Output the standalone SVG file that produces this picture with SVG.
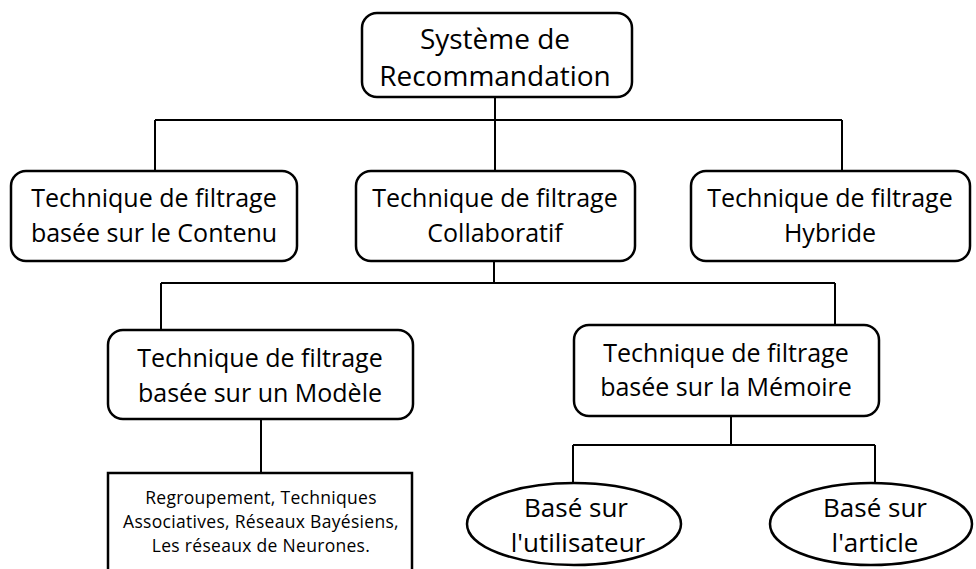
<svg xmlns="http://www.w3.org/2000/svg" width="976" height="569" viewBox="0 0 976 569">
<style>
.box{fill:#fff;stroke:#000;stroke-width:2.5}
.ln{fill:none;stroke:#000;stroke-width:2}
text{font-family:"Open Sans","Liberation Sans",sans-serif;fill:#000;text-anchor:middle}
.t1{font-size:28px}
.t2{font-size:25px}
.t3{font-size:17.5px;letter-spacing:0.3px}
.t4{font-size:26px}
</style>
<rect width="976" height="569" fill="#fff"/>
<g id="connectors">
<path class="ln" d="M495 97V120M155 120H842M155 120V171M495 120V171M842 120V171"/>
<path class="ln" d="M494 261V283M161 283H835M161 283V330M835 283V325"/>
<path class="ln" d="M261 419V473"/>
<path class="ln" d="M731 416V445M573 445H875M573 445V483M875 445V483"/>
</g>
<g id="root">
<rect class="box" x="362" y="13" width="270" height="84" rx="15"/>
<text class="t1" x="495" y="49">Système de</text>
<text class="t1" x="495" y="86">Recommandation</text>
</g>
<g id="contenu">
<rect class="box" x="11" y="171" width="286" height="90" rx="15"/>
<text class="t2" x="154" y="207">Technique de filtrage</text>
<text class="t2" x="154" y="242">basée sur le Contenu</text>
</g>
<g id="collaboratif">
<rect class="box" x="356" y="171" width="279" height="90" rx="15"/>
<text class="t2" x="495" y="207">Technique de filtrage</text>
<text class="t2" x="495" y="242">Collaboratif</text>
</g>
<g id="hybride">
<rect class="box" x="691" y="171" width="279" height="90" rx="15"/>
<text class="t2" x="830" y="207">Technique de filtrage</text>
<text class="t2" x="830" y="242">Hybride</text>
</g>
<g id="modele">
<rect class="box" x="108" y="330" width="305" height="89" rx="15"/>
<text class="t2" x="260" y="367">Technique de filtrage</text>
<text class="t2" x="260" y="402">basée sur un Modèle</text>
</g>
<g id="memoire">
<rect class="box" x="574" y="325" width="305" height="91" rx="15"/>
<text class="t2" x="726" y="362">Technique de filtrage</text>
<text class="t2" x="726" y="396">basée sur la Mémoire</text>
</g>
<g id="techniques">
<rect class="box" x="108" y="473" width="304" height="110"/>
<text class="t3" x="261" y="504">Regroupement, Techniques</text>
<text class="t3" x="261" y="528">Associatives, Réseaux Bayésiens,</text>
<text class="t3" x="261" y="552">Les réseaux de Neurones.</text>
</g>
<g id="utilisateur">
<ellipse class="box" cx="574" cy="524" rx="107" ry="41"/>
<text class="t4" x="576" y="517">Basé sur</text>
<text class="t4" x="578" y="552">l'utilisateur</text>
</g>
<g id="article">
<ellipse class="box" cx="871" cy="524" rx="101" ry="41"/>
<text class="t4" x="875" y="517">Basé sur</text>
<text class="t4" x="875" y="552">l'article</text>
</g>
</svg>
